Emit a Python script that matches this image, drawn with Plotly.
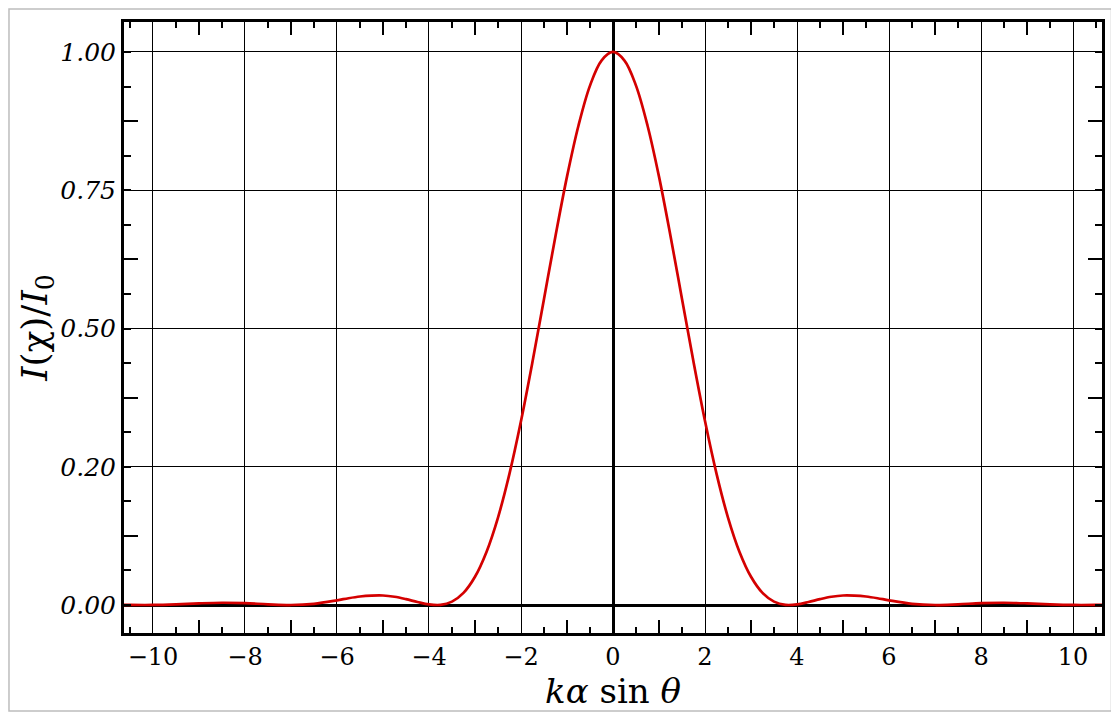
import plotly.graph_objects as go

# values (I/I0 against k a sin theta)
x_vals = [-10.75, -10.5, -10.0, -9.5, -9.0, -8.5, -8.0, -7.5, -7.0, -6.5, -6.0,
          -5.75, -5.5, -5.25, -5.0, -4.75, -4.5, -4.25, -4.0, -3.75, -3.5,
          -3.25, -3.0, -2.75, -2.5, -2.25, -2.0, -1.75, -1.5, -1.25, -1.0,
          -0.75, -0.5, -0.25, 0.0, 0.25, 0.5, 0.75, 1.0, 1.25, 1.5,
          1.75, 2.0, 2.25, 2.5, 2.75, 3.0, 3.25, 3.5, 3.75, 4.0,
          4.25, 4.5, 4.75, 5.0, 5.25, 5.5, 5.75, 6.0, 6.5, 7.0,
          7.5, 8.0, 8.5, 9.0, 9.5, 10.0, 10.5, 10.75]
intensity = [0.0006, 0.0002, 0.0001, 0.0012, 0.0030, 0.0041, 0.0034, 0.0013, 0.0000, 0.0022, 0.0085,
             0.0123, 0.0154, 0.0170, 0.0172, 0.0149, 0.0106, 0.0054, 0.0011, 0.0003, 0.0062,
             0.0220, 0.0511, 0.0960, 0.1582, 0.2376, 0.3326, 0.4397, 0.5534, 0.6674, 0.7746,
             0.8671, 0.9392, 0.9845, 1.0000, 0.9845, 0.9392, 0.8671, 0.7746, 0.6674, 0.5534,
             0.4397, 0.3326, 0.2376, 0.1582, 0.0960, 0.0511, 0.0220, 0.0062, 0.0003, 0.0011,
             0.0054, 0.0106, 0.0149, 0.0172, 0.0170, 0.0154, 0.0123, 0.0085, 0.0022, 0.0000,
             0.0013, 0.0034, 0.0041, 0.0030, 0.0012, 0.0001, 0.0002, 0.0006]

y_tickvals = [0.0, 0.25, 0.5, 0.75, 1.0]
y_ticktext = ["0.00", "0.20", "0.50", "0.75", "1.00"]
x_mid_ticks = [-9, -7, -5, -3, -1, 1, 3, 5, 7, 9]
y_mid_ticks = [0.125, 0.375, 0.625, 0.875]

x_range = [-10.63, 10.63]
y_range = [-0.0506, 1.0542]

fig = go.Figure()
fig.add_trace(go.Scatter(x=x_vals, y=intensity, mode="lines", line=dict(color="#d40000", width=2.7, shape="spline"),
                         showlegend=False, hoverinfo="skip"))
# empty trace so the overlay axes get drawn
fig.add_trace(go.Scatter(x=[None], y=[None], xaxis="x2", yaxis="y2", showlegend=False, hoverinfo="skip"))

serif = "DejaVu Serif"
fig.update_layout(
    width=1111, height=710,
    margin=dict(l=116, r=17, t=14, b=85),
    paper_bgcolor="white", plot_bgcolor="white",
    font=dict(family=serif, color="black"),
    xaxis=dict(
        range=x_range, dtick=2, tick0=0,
        showgrid=True, gridcolor="black", gridwidth=1.2,
        zeroline=True, zerolinecolor="black", zerolinewidth=2.6,
        showline=True, linecolor="black", linewidth=3, mirror="ticks",
        ticks="", tickfont=dict(family=serif, size=24),
        minor=dict(dtick=0.5, tick0=0, ticks="inside", ticklen=6, tickwidth=1.5, tickcolor="black", showgrid=False),
        title=dict(text="<i>kα</i> sin<i> θ</i>", font=dict(family=serif, size=34), standoff=4),
    ),
    yaxis=dict(
        range=y_range, tickvals=y_tickvals, ticktext=y_ticktext,
        showgrid=True, gridcolor="black", gridwidth=1.2,
        zeroline=True, zerolinecolor="black", zerolinewidth=2.6,
        showline=True, linecolor="black", linewidth=3, mirror="ticks",
        ticks="", tickfont=dict(family=serif, size=25, style="italic"),
        minor=dict(dtick=0.0625, tick0=0, ticks="inside", ticklen=7, tickwidth=1.5, tickcolor="black", showgrid=False),
        title=dict(text="<i>I</i>(χ)/<i>I</i><sub>0</sub>", font=dict(family=serif, size=36), standoff=0),
    ),
    xaxis2=dict(
        overlaying="x", range=x_range, tickvals=x_mid_ticks, showticklabels=False,
        ticks="inside", ticklen=13, tickwidth=1.5, tickcolor="black", mirror="ticks",
        showgrid=False, zeroline=False, showline=False,
    ),
    yaxis2=dict(
        overlaying="y", range=y_range, tickvals=y_mid_ticks, showticklabels=False,
        ticks="inside", ticklen=14, tickwidth=1.5, tickcolor="black", mirror="ticks",
        showgrid=False, zeroline=False, showline=False,
    ),
    # light outer frame round the whole picture
    shapes=[dict(type="rect", xref="paper", yref="paper", x0=-0.1176, x1=1.0097, y0=-0.1277, y1=1.0213,
                 line=dict(color="#bdbdbd", width=1.5), layer="below")],
)

fig.write_html("out.html")
